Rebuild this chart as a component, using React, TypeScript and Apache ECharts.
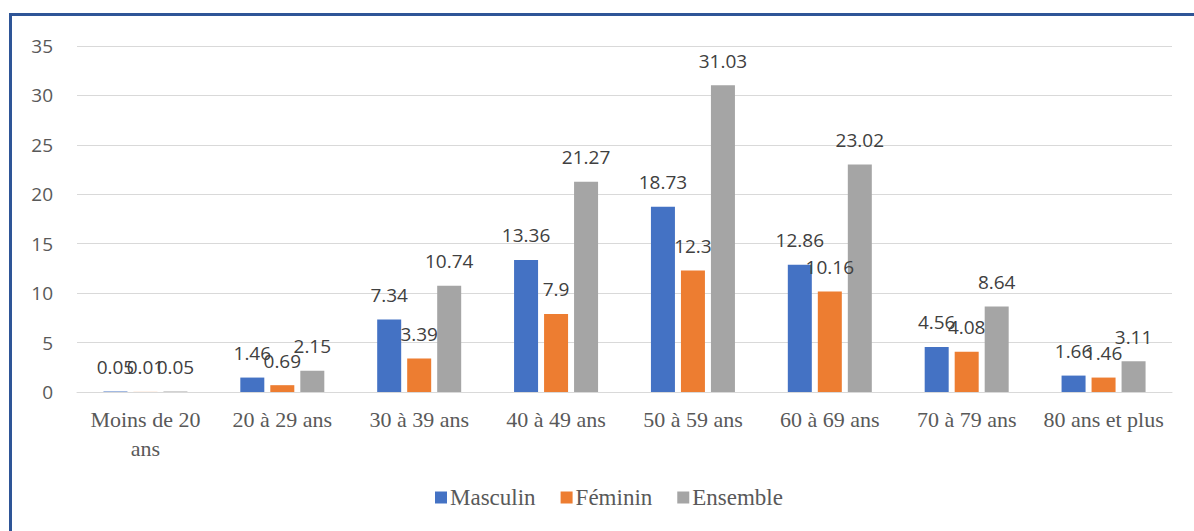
import React, { useEffect, useRef } from "react";
import * as echarts from "echarts";

const categories = [
  "Moins de 20\nans",
  "20 à 29 ans",
  "30 à 39 ans",
  "40 à 49 ans",
  "50 à 59 ans",
  "60 à 69 ans",
  "70 à 79 ans",
  "80 ans et plus",
];
const masculin = [0.05, 1.46, 7.34, 13.36, 18.73, 12.86, 4.56, 1.66];
const feminin = [0.01, 0.69, 3.39, 7.9, 12.3, 10.16, 4.08, 1.46];
const ensemble = [0.05, 2.15, 10.74, 21.27, 31.03, 23.02, 8.64, 3.11];
const seriesNames = ["Masculin", "Féminin", "Ensemble"];
const colors = ["#4472C4", "#ED7D31", "#A5A5A5"];

const SANS = "'Open Sans', 'Noto Sans', sans-serif";
const SERIF = "'Liberation Serif', 'DejaVu Serif', serif";

export default function App() {
  const ref = useRef<HTMLDivElement>(null);
  useEffect(() => {
    if (!ref.current) return;
    const chart = echarts.init(ref.current, undefined, { renderer: "svg" });
    const values = [masculin, feminin, ensemble];
    chart.setOption({
      animation: false,
      backgroundColor: "#ffffff",
      grid: {
        left: 77,
        right: 22,
        top: 46,
        bottom: 139,
        outerBoundsMode: "none",
      },
      graphic: [
        {
          type: "rect",
          shape: { x: 9, y: 13, width: 1185, height: 3 },
          style: { fill: "#2E5597" },
          silent: true,
        },
        {
          type: "rect",
          shape: { x: 9, y: 13, width: 3, height: 518 },
          style: { fill: "#2E5597" },
          silent: true,
        },
      ],
      legend: {
        left: 435,
        top: 486,
        padding: 0,
        itemWidth: 12,
        itemHeight: 12,
        itemGap: 25,
        icon: "rect",
        textStyle: { fontFamily: SERIF, fontSize: 23, color: "#595959", padding: [0, 0, 0, -2] },
        data: seriesNames,
      },
      xAxis: {
        type: "category",
        data: categories,
        axisLine: { show: true, lineStyle: { color: "#D9D9D9", width: 1 } },
        axisTick: { show: false },
        axisLabel: {
          fontFamily: SERIF,
          fontSize: 22,
          color: "#595959",
          margin: 13,
          lineHeight: 29,
          interval: 0,
        },
      },
      yAxis: {
        type: "value",
        min: 0,
        max: 35,
        interval: 5,
        axisLine: { show: false },
        axisTick: { show: false },
        splitLine: { lineStyle: { color: "#D9D9D9", width: 1 } },
        axisLabel: {
          fontFamily: SANS,
          fontSize: 19,
          color: "#595959",
          margin: 24,
        },
      },
      series: seriesNames.map((name, i) => ({
        name,
        type: "bar",
        data: values[i],
        barWidth: 24,
        barGap: "25%",
        itemStyle: { color: colors[i] },
        label: {
          show: true,
          position: "top",
          distance: 15,
          fontFamily: SANS,
          fontSize: 19,
          color: "#404040",
        },
      })),
    });
    return () => chart.dispose();
  }, []);
  return (
    <div
      ref={ref}
      style={{ position: "fixed", left: 0, top: 0, width: 1194, height: 531, background: "#fff" }}
    />
  );
}
